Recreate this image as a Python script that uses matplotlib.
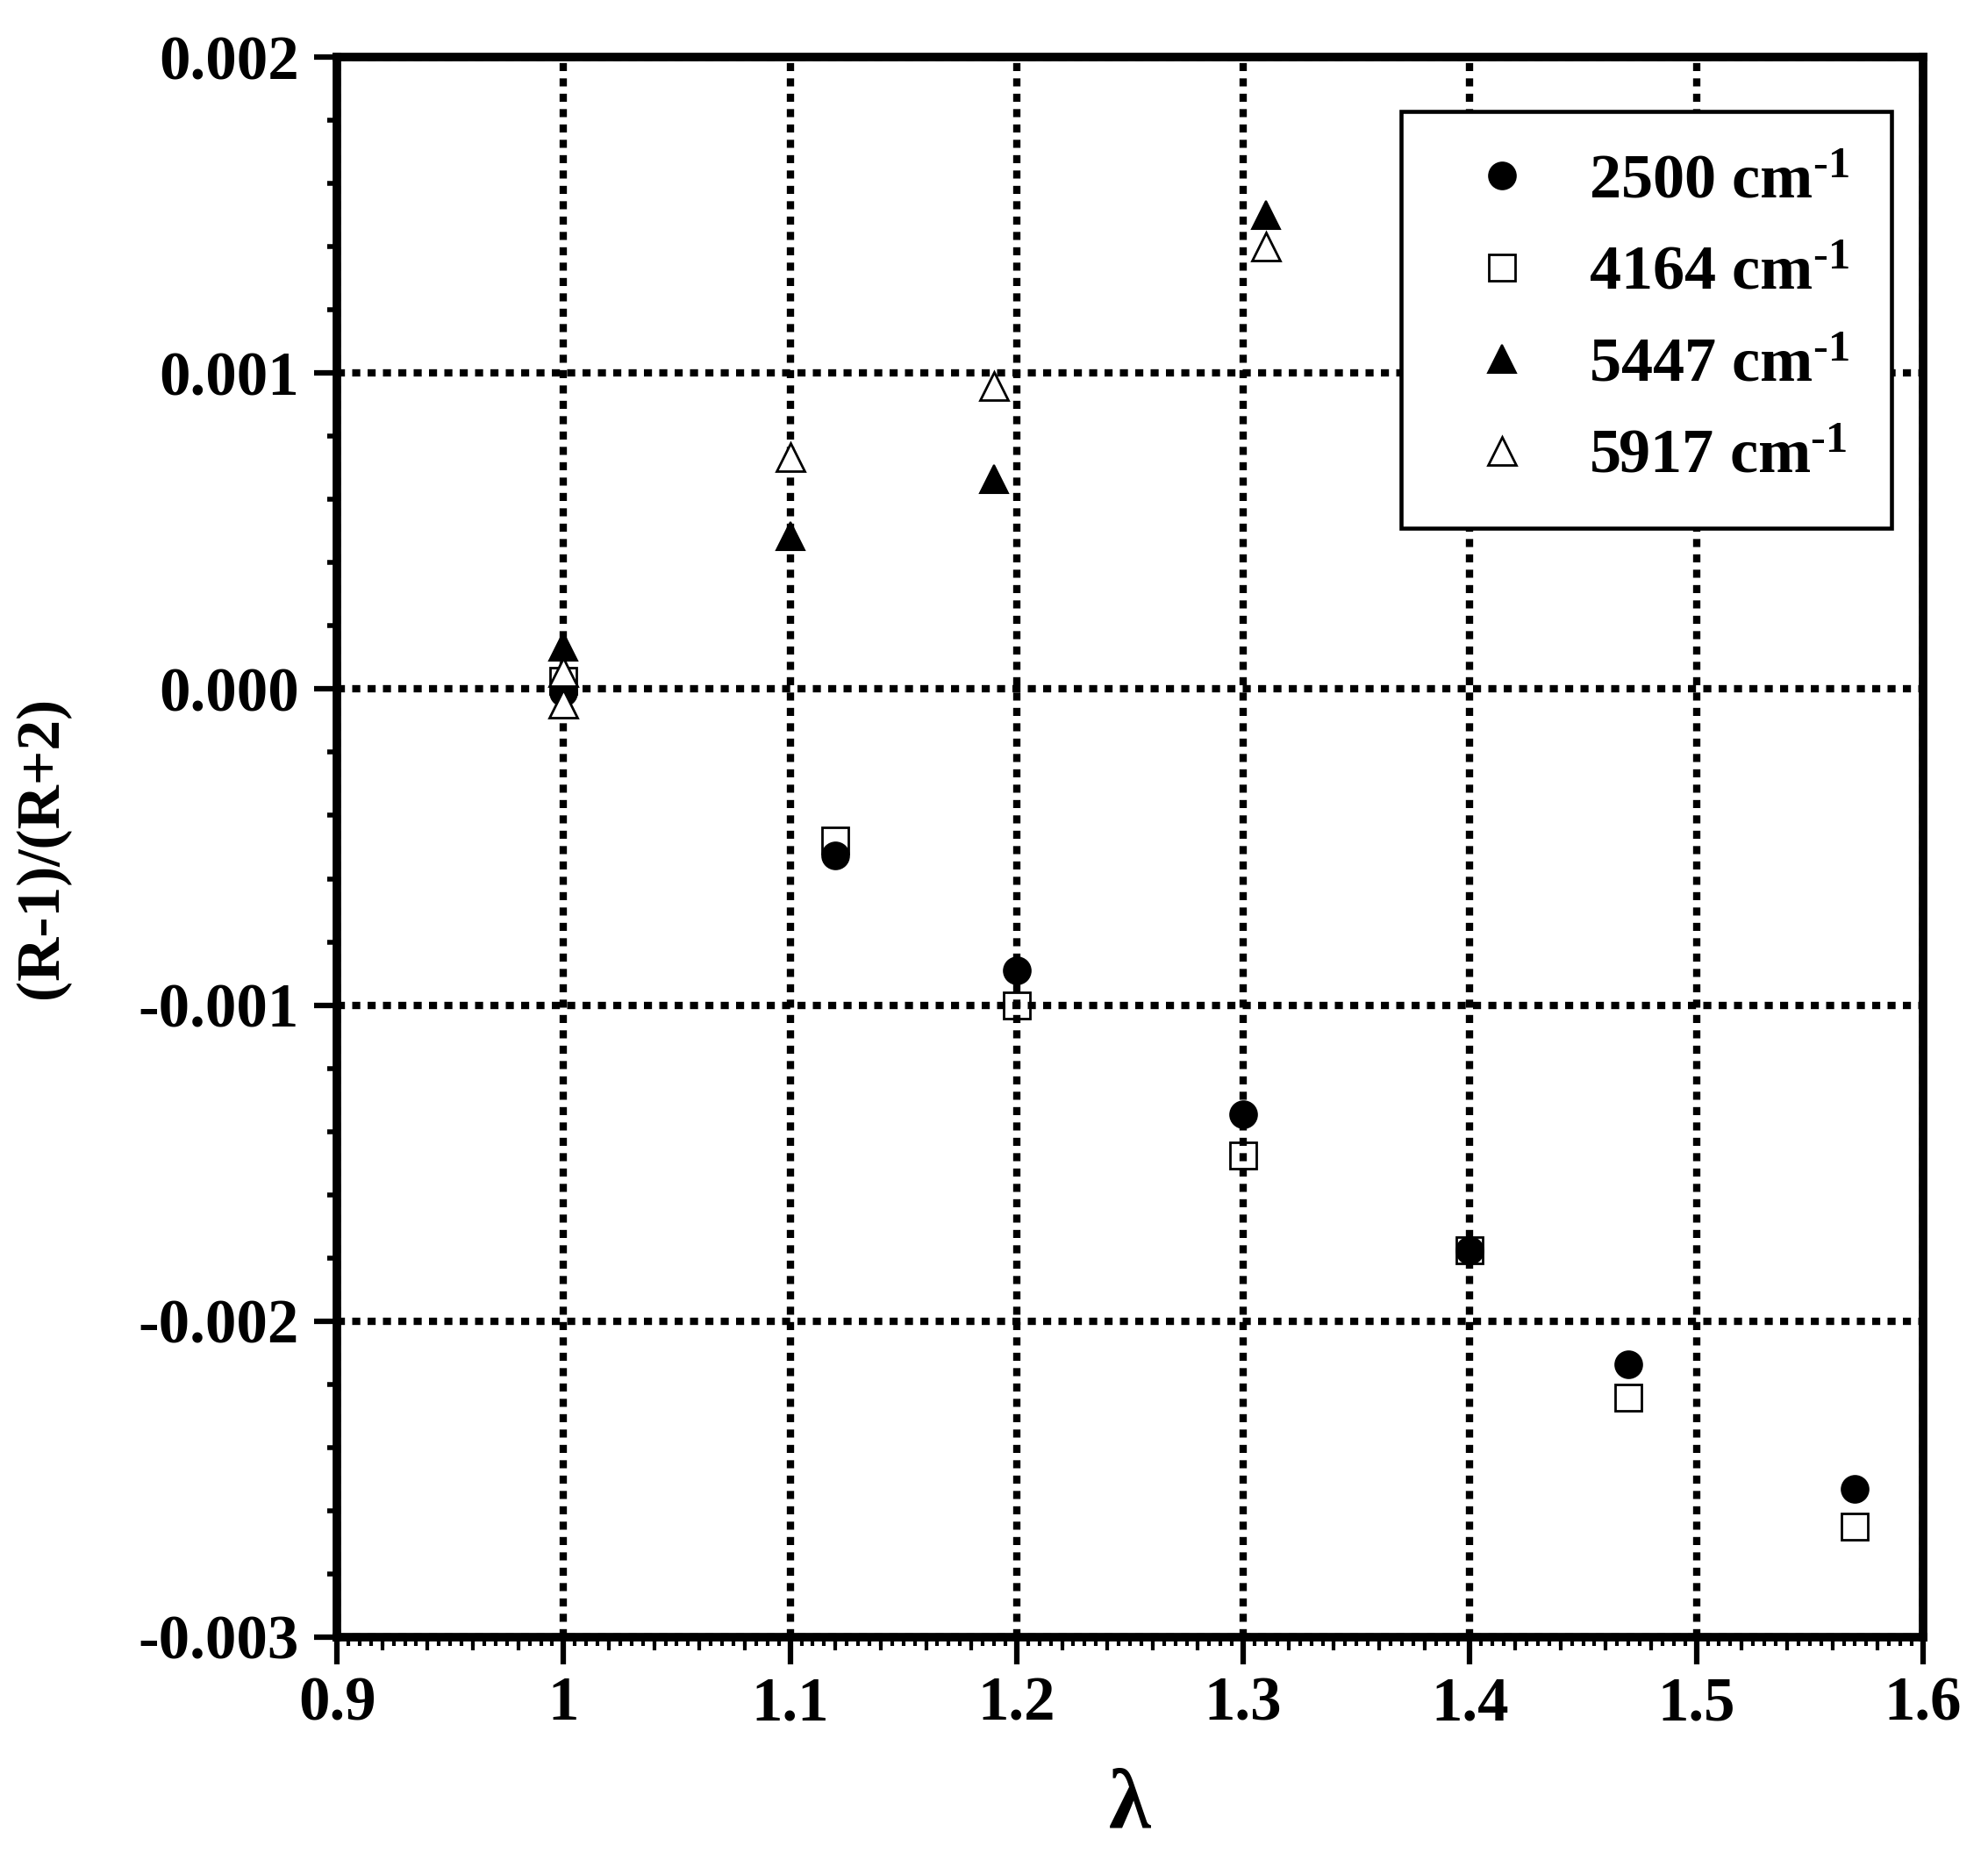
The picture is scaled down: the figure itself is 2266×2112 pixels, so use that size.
import matplotlib
matplotlib.use('Agg')
import matplotlib.pyplot as plt
from matplotlib.ticker import MultipleLocator, FixedLocator, FixedFormatter, NullLocator
import numpy as np

plt.rcParams['font.family'] = ['Liberation Serif', 'DejaVu Serif']
plt.rcParams['font.weight'] = 'bold'
plt.rcParams['mathtext.fontset'] = 'custom'
plt.rcParams['mathtext.rm'] = 'Liberation Serif:bold'
plt.rcParams['mathtext.it'] = 'Liberation Serif:bold'
plt.rcParams['mathtext.bf'] = 'Liberation Serif:bold'
plt.rcParams['mathtext.default'] = 'rm'
plt.rcParams['axes.unicode_minus'] = False

# ---- data ----
lam_2500 = [1.00, 1.12, 1.20, 1.30, 1.40, 1.47, 1.57]
val_2500 = [-0.00001, -0.000525, -0.000891, -0.001345, -0.001777, -0.002136, -0.00253]

lam_4164 = [1.00, 1.12, 1.20, 1.30, 1.40, 1.47, 1.57]
val_4164 = [0.000025, -0.00048, -0.001, -0.001475, -0.001777, -0.002241, -0.002649]

lam_5447 = [1.00, 1.10, 1.19, 1.31]
val_5447 = [0.000135, 0.000484, 0.000666, 0.0015]

lam_5917 = [1.00, 1.00, 1.10, 1.19, 1.31]
val_5917 = [0.000055, -0.000045, 0.000734, 0.000959, 0.0014]

series_labels = [r'2500 cm$^{\text{-1}}$', r'4164 cm$^{\text{-1}}$',
                 r'5447 cm$^{\text{-1}}$', r'5917 cm$^{\text{-1}}$']

x_ticks = [0.9, 1.0, 1.1, 1.2, 1.3, 1.4, 1.5, 1.6]
x_tick_labels = ['0.9', '1', '1.1', '1.2', '1.3', '1.4', '1.5', '1.6']
y_ticks = [-0.003, -0.002, -0.001, 0.0, 0.001, 0.002]
y_tick_labels = ['-0.003', '-0.002', '-0.001', '0.000', '0.001', '0.002']

x_label = '\u03bb'
y_label = '(R-1)/(R+2)'

# ---- figure ----
fig = plt.figure(figsize=(22.66, 21.12), dpi=100)
ax = fig.add_axes([0.1695, 0.1165, 0.7978, 0.8527])

ax.plot(lam_2500, val_2500, linestyle='none', marker='o', ms=22,
        mfc='black', mec='black', mew=1.5, label=series_labels[0], zorder=3)
ax.plot(lam_4164, val_4164, linestyle='none', marker='s', ms=21,
        mfc='none', mec='black', mew=2.0, label=series_labels[1], zorder=4)
ax.plot(lam_5447, val_5447, linestyle='none', marker='^', ms=23,
        mfc='black', mec='black', mew=1.5, label=series_labels[2], zorder=5)
ax.plot(lam_5917, val_5917, linestyle='none', marker='^', ms=23,
        mfc='white', mec='black', mew=2.0, label=series_labels[3], zorder=6)

ax.set_xlim(0.9, 1.6)
ax.set_ylim(-0.003, 0.002)

ax.xaxis.set_major_locator(FixedLocator(x_ticks))
ax.xaxis.set_major_formatter(FixedFormatter(x_tick_labels))
ax.xaxis.set_minor_locator(MultipleLocator(0.02))
ax.yaxis.set_major_locator(FixedLocator(y_ticks))
ax.yaxis.set_major_formatter(FixedFormatter(y_tick_labels))
ax.yaxis.set_minor_locator(MultipleLocator(0.0002))

ax.tick_params(axis='both', which='major', direction='out', color='black',
               width=4.5, labelsize=51, pad=10)
ax.tick_params(axis='x', which='major', length=22)
ax.tick_params(axis='y', which='major', length=19, pad=12)
ax.tick_params(axis='x', which='minor', direction='out', length=11, width=3)
ax.tick_params(axis='y', which='minor', direction='out', length=8, width=4)
ax.tick_params(top=False, right=False, which='both')

# fine extra x ticks
sec = ax.secondary_xaxis('bottom')
sec.xaxis.set_major_locator(MultipleLocator(0.005))
sec.xaxis.set_minor_locator(NullLocator())
sec.tick_params(axis='x', which='major', direction='out', length=7, width=3,
                labelbottom=False)
for sp in sec.spines.values():
    sp.set_visible(False)

for sp in ax.spines.values():
    sp.set_linewidth(7)
    sp.set_color('black')

ax.grid(True, which='major', color='black', linewidth=6,
        linestyle=(0, (1.1, 1.0)))
ax.set_axisbelow(True)

ax.set_xlabel(x_label, fontsize=70, fontweight='bold', labelpad=29)
ax.set_ylabel(y_label, fontsize=50, fontweight='bold', labelpad=56)

leg = ax.legend(loc='upper right', bbox_to_anchor=(0.980, 0.9656),
                borderaxespad=0, fontsize=52, frameon=True, fancybox=False,
                framealpha=1, edgecolor='black', borderpad=0.66,
                handlelength=1.88, handletextpad=0.43, labelspacing=0.54,
                numpoints=1)
leg.get_frame().set_linewidth(3.3)

fig.savefig('out.png', dpi=100)
